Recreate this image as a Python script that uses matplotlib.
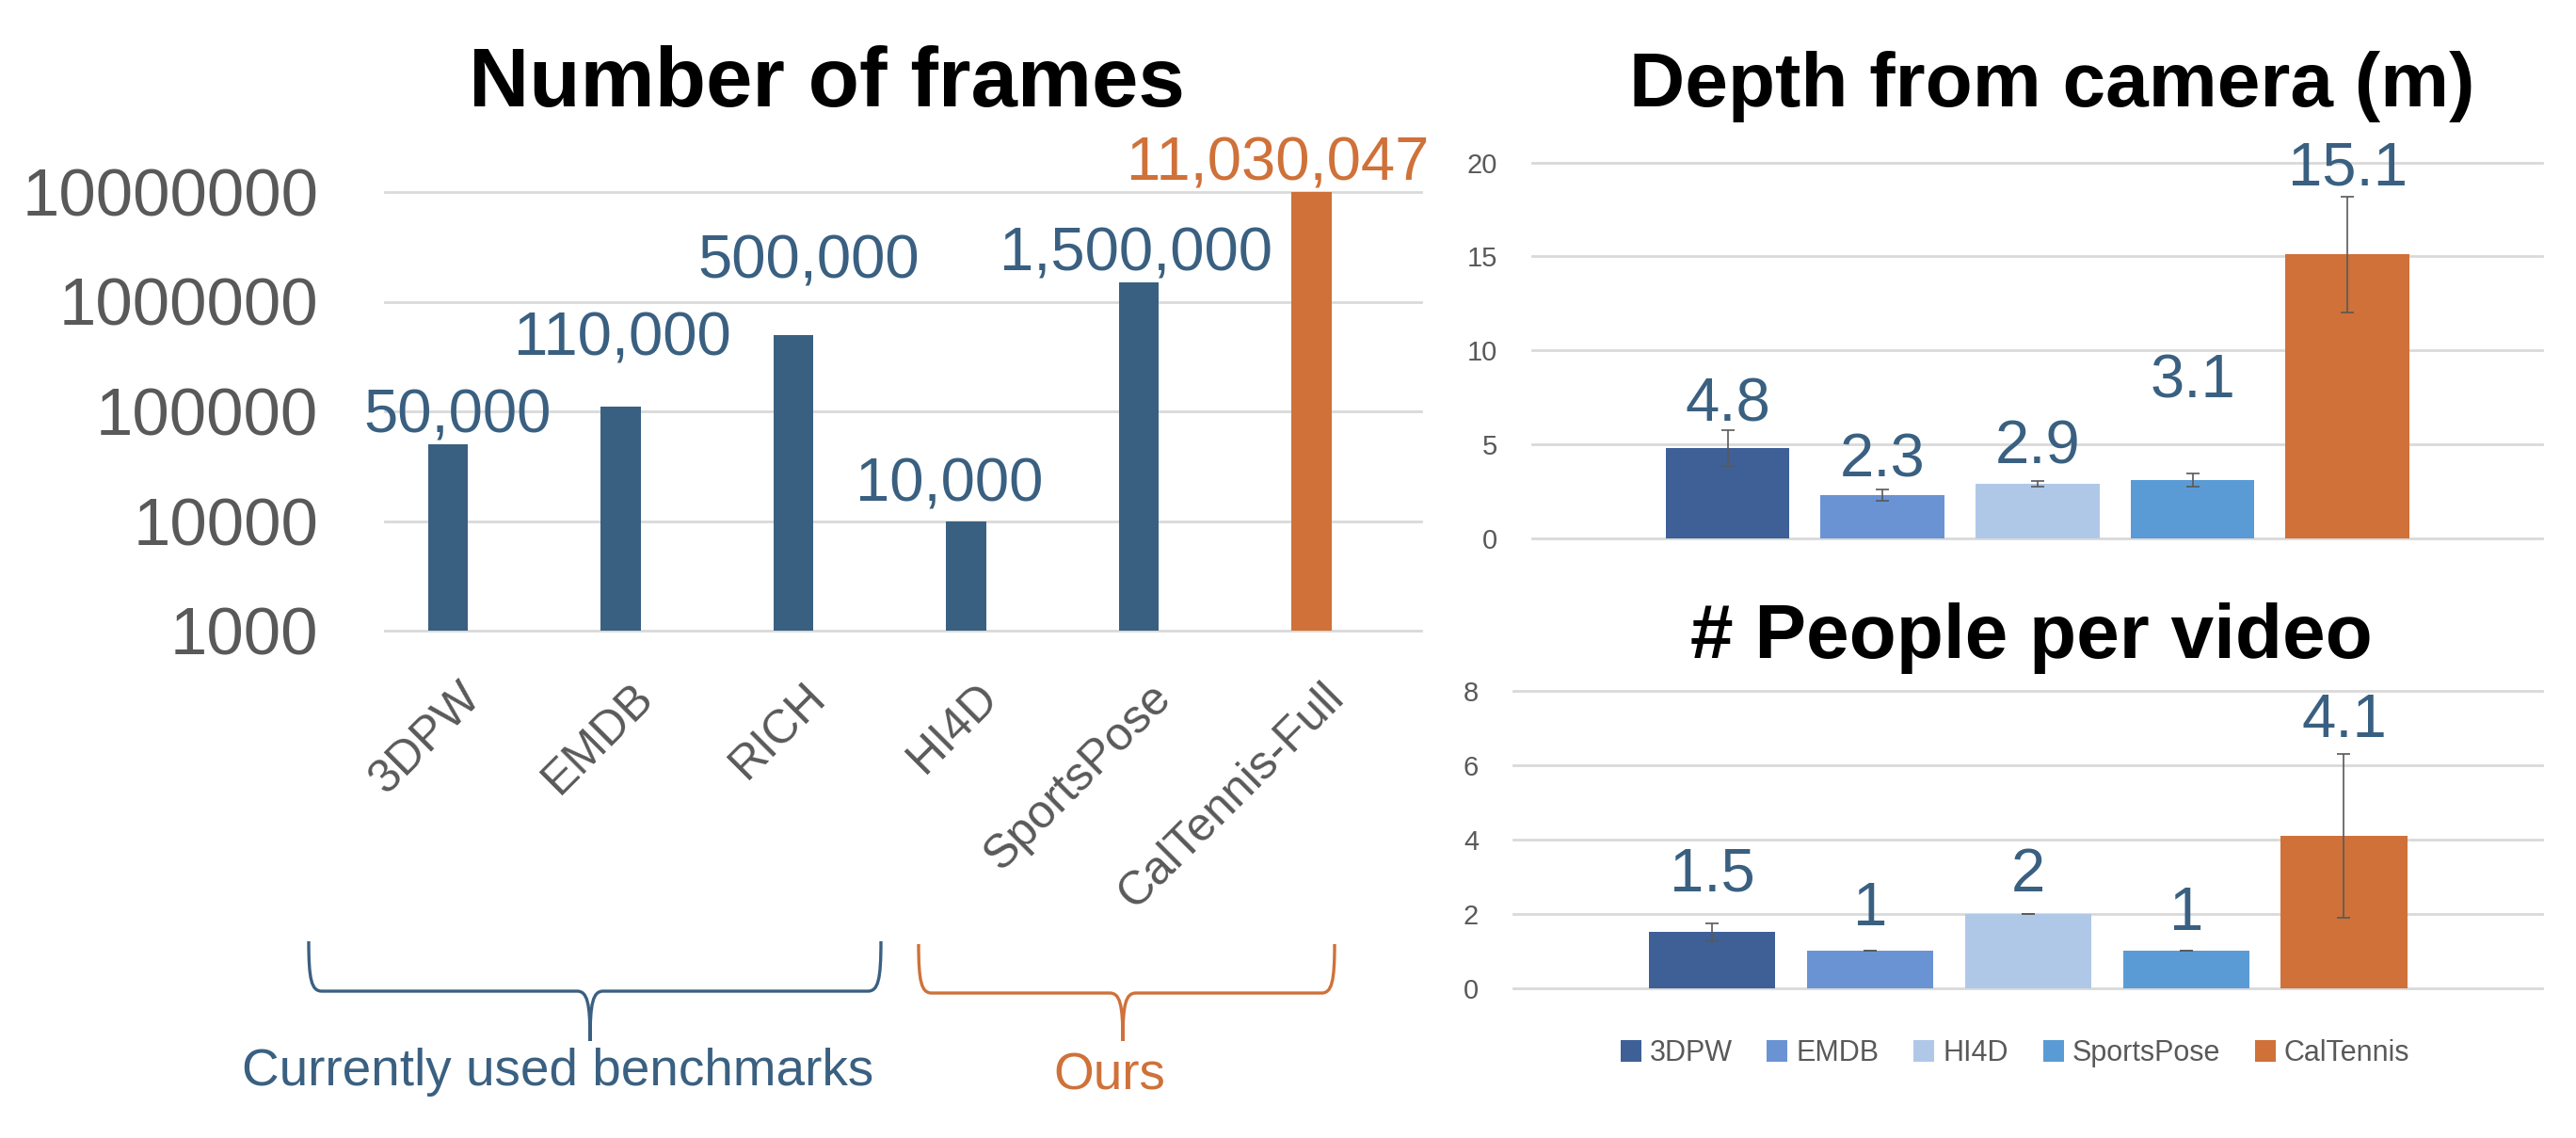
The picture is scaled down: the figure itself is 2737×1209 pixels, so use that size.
import matplotlib
matplotlib.use('Agg')
import matplotlib.pyplot as plt
from matplotlib.patches import Patch, PathPatch
from matplotlib.path import Path
from matplotlib.ticker import NullLocator
from matplotlib.transforms import ScaledTranslation

# ---- data ----
frame_datasets = ['3DPW', 'EMDB', 'RICH', 'HI4D', 'SportsPose', 'CalTennis-Full']
frame_counts = [50000, 110000, 500000, 10000, 1500000, 11030047]

stat_datasets = ['3DPW', 'EMDB', 'HI4D', 'SportsPose', 'CalTennis']
depth_mean = [4.8, 2.3, 2.9, 3.1, 15.1]
depth_err = [0.95, 0.3, 0.14, 0.34, 3.1]
people_mean = [1.5, 1, 2, 1, 4.1]
people_err = [0.25, 0, 0, 0, 2.2]

group_names = ['Currently used benchmarks', 'Ours']

# ---- style ----
W, H, DPI = 2737, 1209, 100
BLUE = '#3a6081'
ORANGE = '#cf7139'
GRAY = '#595959'
GRID = '#d9d9d9'
stat_colors = ['#3e6096', '#6a93d4', '#b0c8e8', '#5b9bd5', ORANGE]

plt.rcParams['font.family'] = ['Liberation Sans', 'DejaVu Sans']

fig = plt.figure(figsize=(W / DPI, H / DPI), dpi=DPI)


def add_axes_px(left, top, right, bottom):
    # axes box given in image pixels (y down)
    return fig.add_axes([left / W, 1 - bottom / H, (right - left) / W, (bottom - top) / H])


def fig_xy(x, y):
    return x / W, 1 - y / H


def style_y(ax, ticks, labels, size, pad):
    for s in ax.spines.values():
        s.set_visible(False)
    ax.set_yticks(ticks)
    ax.set_yticklabels(labels)
    ax.yaxis.set_minor_locator(NullLocator())
    ax.tick_params(axis='y', length=0, pad=pad, labelsize=size, labelcolor=GRAY)
    for t in ticks:
        ax.axhline(t, color=GRID, lw=2, zorder=0, clip_on=False)


def brace(x0, x1, xm, ytop, yflat, ytip, color, r=14):
    pts = [(x0, ytop), (x0, yflat - 12), (x0 + 3, yflat), (x0 + r, yflat),
           (xm - r, yflat),
           (xm - 3, yflat), (xm, yflat + 12), (xm, ytip),
           (xm, ytip), (xm, yflat + 12), (xm + 3, yflat), (xm + r, yflat),
           (x1 - r, yflat),
           (x1 - 3, yflat), (x1, yflat - 12), (x1, ytop)]
    codes = [Path.MOVETO, Path.CURVE4, Path.CURVE4, Path.CURVE4, Path.LINETO,
             Path.CURVE4, Path.CURVE4, Path.CURVE4,
             Path.MOVETO, Path.CURVE4, Path.CURVE4, Path.CURVE4, Path.LINETO,
             Path.CURVE4, Path.CURVE4, Path.CURVE4]
    path = Path([fig_xy(x, y) for x, y in pts], codes)
    fig.add_artist(PathPatch(path, fill=False, edgecolor=color, lw=2.4,
                             transform=fig.transFigure))


# ---- left: number of frames (log) ----
ax = add_axes_px(409, 204, 1510, 670)
ax.set_yscale('log')
ax.set_ylim(1000, 1e7)
ax.set_xlim(-0.365, 5.635)
x = list(range(len(frame_datasets)))
frame_colors = [BLUE] * 5 + [ORANGE]
ax.bar(x, frame_counts, width=0.23, color=frame_colors, zorder=2)
style_y(ax, [1e3, 1e4, 1e5, 1e6, 1e7], ['1000', '10000', '100000', '1000000', '10000000'], 51, 51)
ax.set_xticks(x)
ax.set_xticklabels(frame_datasets, rotation=45, ha='right', va='top',
                   rotation_mode='anchor', fontsize=36, color=GRAY)
ax.tick_params(axis='x', length=0, pad=34)
for lab in ax.get_xticklabels():
    lab.set_transform(lab.get_transform() + ScaledTranslation(0.11, 0, fig.dpi_scale_trans))

frame_label_off = [(10, 13), (2, 55), (16, 60), (-18, 21), (-3, 12), (-36, 13)]
for i, (v, c) in enumerate(zip(frame_counts, frame_colors)):
    ax.annotate(f'{v:,}', xy=(i, min(v, 1e7)), xytext=frame_label_off[i],
                textcoords='offset pixels', ha='center', va='baseline',
                fontsize=47, color=c, annotation_clip=False)

fig.text(*fig_xy(878, 113), 'Number of frames', ha='center', va='baseline',
         fontsize=64, fontweight='bold')

brace(328, 936, 627, 1000, 1053, 1106, BLUE)
brace(976, 1418, 1193, 1003, 1055, 1106, ORANGE)
fig.text(*fig_xy(593, 1153), group_names[0], ha='center', va='baseline', fontsize=39.5, color=BLUE)
fig.text(*fig_xy(1179, 1158), group_names[1], ha='center', va='baseline', fontsize=39.5, color=ORANGE)


# ---- right panels ----
def stat_panel(ax, means, errs, ymax, step, label_dy):
    xs = list(range(len(means)))
    ax.set_ylim(0, ymax)
    ax.set_xlim(-1.26, 5.255)
    ax.bar(xs, means, width=0.8, color=stat_colors, zorder=2)
    ax.errorbar(xs, means, yerr=errs, fmt='none', ecolor=GRAY, elinewidth=1.2,
                capsize=4.7, capthick=1.2, zorder=3)
    ticks = list(range(0, ymax + 1, step))
    style_y(ax, ticks, [str(t) for t in ticks], 21, 26.5)
    ax.set_xticks([])
    for i, v in enumerate(means):
        ax.annotate(f'{v:g}', xy=(i, v), xytext=(0, label_dy[i]),
                    textcoords='offset pixels', ha='center', va='baseline',
                    fontsize=47, color=BLUE, annotation_clip=False)


ax_depth = add_axes_px(1628, 172.7, 2701, 571.7)
stat_panel(ax_depth, depth_mean, depth_err, 20, 5, [28, 19, 21, 87, 74])
fig.text(*fig_xy(2180, 113), 'Depth from camera (m)', ha='center', va='baseline',
         fontsize=59, fontweight='bold')

ax_people = add_axes_px(1608, 733.7, 2701, 1049.7)
stat_panel(ax_people, people_mean, people_err, 8, 2, [44, 27, 24, 22, 105])
fig.text(*fig_xy(2158, 699), '# People per video', ha='center', va='baseline',
         fontsize=59, fontweight='bold')

handles = [Patch(facecolor=c, label=n) for c, n in zip(stat_colors, stat_datasets)]
fig.legend(handles=handles, loc='center', bbox_to_anchor=fig_xy(2141, 1119), ncol=5,
           frameon=False, fontsize=22, handlelength=0.72, handleheight=0.8,
           handletextpad=0.3, columnspacing=1.2, labelcolor=GRAY)

fig.savefig('out.png', dpi=DPI)
